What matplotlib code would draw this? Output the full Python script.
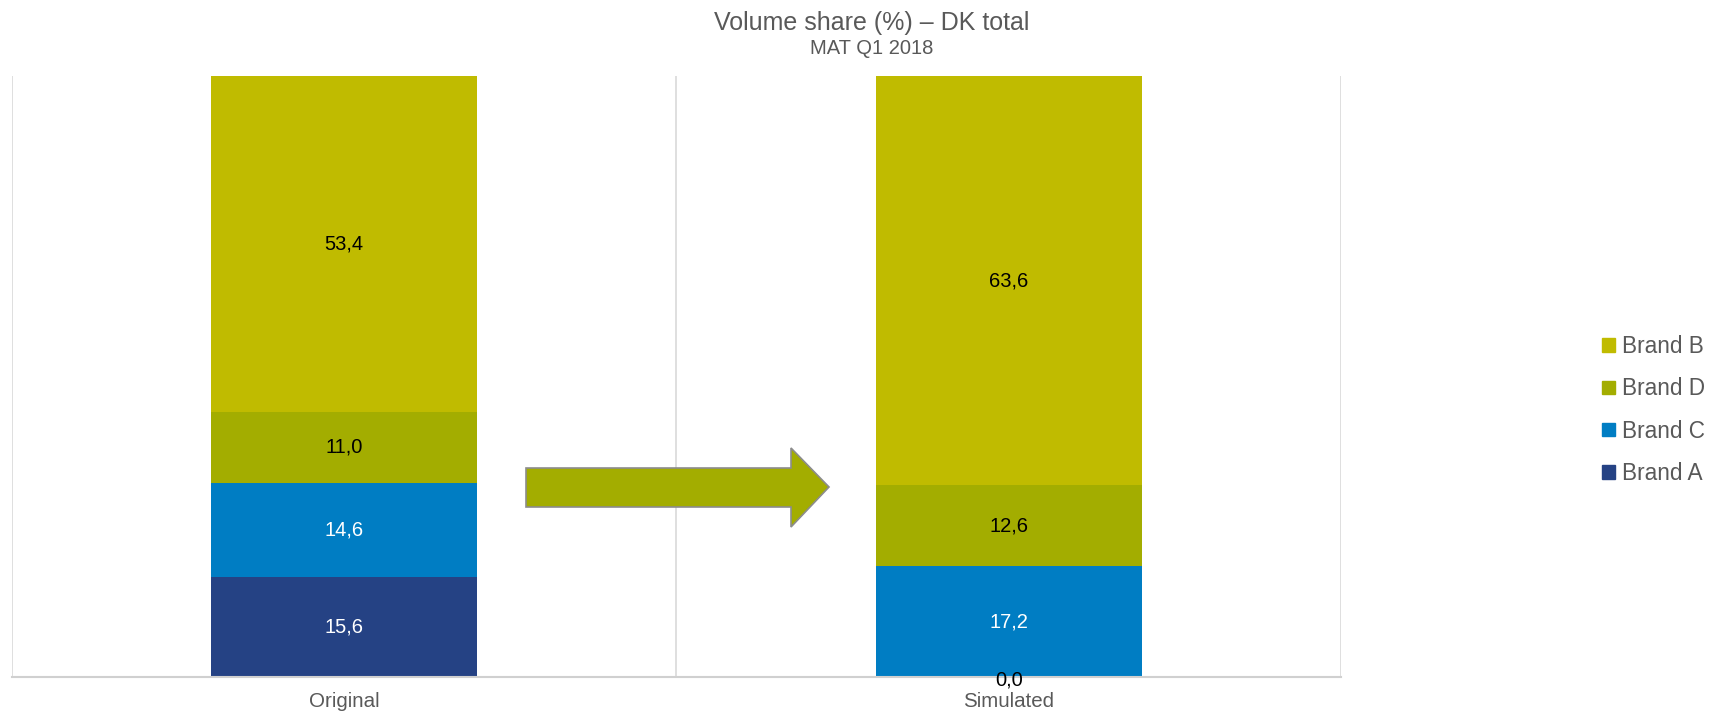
import matplotlib.pyplot as plt
from matplotlib.patches import Polygon, Patch

plt.rcParams['font.family'] = ['Liberation Sans', 'DejaVu Sans']

# Data
scenarios = ["Original", "Simulated"]
brands = ["Brand A", "Brand C", "Brand D", "Brand B"]  # stacking order, bottom to top
shares = {
    "Brand A": [15.6, 0.0],
    "Brand C": [14.6, 17.2],
    "Brand D": [11.0, 12.6],
    "Brand B": [53.4, 63.6],
}
colors = {
    "Brand A": "#254284",
    "Brand C": "#007DC3",
    "Brand D": "#A3AD00",
    "Brand B": "#C0BB00",
}
label_colors = {"Brand A": "white", "Brand C": "white", "Brand D": "black", "Brand B": "black"}

fig = plt.figure(figsize=(17.12, 7.13), dpi=100)
ax = fig.add_axes([12 / 1712, 1 - 677 / 713, (1341 - 12) / 1712, (677 - 76) / 713])

ymax = 93.4
x = list(range(len(scenarios)))
bottom = [0.0] * len(scenarios)
for b in brands:
    vals = shares[b]
    ax.bar(x, vals, width=0.4, bottom=bottom, color=colors[b], zorder=2)
    for i, v in enumerate(vals):
        lo = bottom[i]
        hi = min(bottom[i] + v, ymax)
        ax.text(x[i], (lo + hi) / 2 - (0.4 if v == 0 else 0), f"{v:.1f}".replace(".", ","),
                ha="center", va="center", fontsize=14.5,
                color=label_colors[b] if v > 0 else "black", zorder=3, clip_on=False)
    bottom = [bottom[i] + vals[i] for i in range(len(vals))]

ax.set_xlim(-0.5, len(scenarios) - 0.5)
ax.set_ylim(0, ymax)
for xv in [-0.5, 0.5, 1.5]:
    ax.axvline(xv, color="#D9D9D9", lw=1.2, zorder=1)
for s in ["top", "left", "right"]:
    ax.spines[s].set_visible(False)
ax.spines["bottom"].set_color("#D0D0D0")
ax.spines["bottom"].set_linewidth(1.5)
ax.set_yticks([])
ax.set_xticks(x)
ax.set_xticklabels(scenarios, fontsize=14.8, color="#595959")
ax.tick_params(axis="x", length=0, pad=11)

# Arrow between the bars
pts = [(526, 468), (791, 468), (791, 448), (829, 487), (791, 527), (791, 507), (526, 507)]
arrow = Polygon([(px / 1712, 1 - py / 713) for px, py in pts], closed=True,
                transform=fig.transFigure, facecolor="#A3AD00", edgecolor="#8C8C8C", lw=1.2)
fig.patches.append(arrow)

fig.text(872 / 1712, 1 - 23 / 713, "Volume share (%) – DK total", ha="center", va="center",
         fontsize=18, color="#595959")
fig.text(872 / 1712, 1 - 49 / 713, "MAT Q1 2018", ha="center", va="center",
         fontsize=14.5, color="#595959")

handles = [Patch(color=colors[b], label=b) for b in ["Brand B", "Brand D", "Brand C", "Brand A"]]
fig.legend(handles=handles, loc="center left", bbox_to_anchor=(1582 / 1712, 1 - 410 / 713),
           frameon=False, fontsize=16.3, labelcolor="#595959", handlelength=0.55,
           handleheight=0.55, handletextpad=0.3, labelspacing=0.85)

fig.savefig("out.png", dpi=100)
